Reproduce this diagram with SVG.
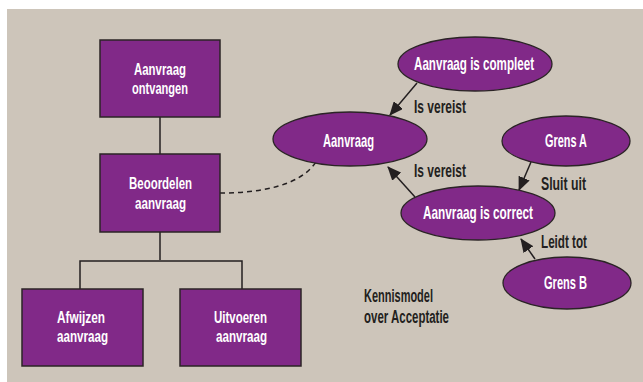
<svg xmlns="http://www.w3.org/2000/svg" width="643" height="382" viewBox="0 0 643 382">
<defs>
<style>
.box{fill:#812988;stroke:#2b2426;stroke-width:1.5}
.ell{fill:#812988;stroke:#2b2426;stroke-width:1.3}
.wt{fill:#ffffff;font-family:"Liberation Sans",Arial,sans-serif;font-weight:bold;font-size:17px}
.et{fill:#ffffff;font-family:"Liberation Sans",Arial,sans-serif;font-weight:bold;font-size:19px}
.lt{fill:#231f20;font-family:"Liberation Sans",Arial,sans-serif;font-weight:bold;font-size:18px}
.ln{fill:none;stroke:#231f20;stroke-width:1.5}
.dash{fill:none;stroke:#231f20;stroke-width:1.5;stroke-dasharray:5 4}
</style>
<marker id="arr" markerUnits="userSpaceOnUse" markerWidth="14" markerHeight="12" viewBox="0 0 14 12" refX="13" refY="6" orient="auto">
<path d="M0,0 L14,6 L0,12 Z" fill="#231f20"/>
</marker>
</defs>
<rect x="0" y="0" width="643" height="382" fill="#ffffff"/>
<rect x="7" y="9" width="636" height="373" fill="#cdc5ba"/>

<g id="connectors">
<line class="ln" x1="160" y1="117" x2="160" y2="154"/>
<polyline class="ln" points="160,232 160,260"/>
<polyline class="ln" points="80,289 80,261 242,261 242,289"/>
<path class="dash" d="M220,193 C260,193 300,186 316,162"/>
<line class="ln" x1="417" y1="83" x2="390" y2="115" marker-end="url(#arr)"/>
<line class="ln" x1="415" y1="197" x2="388" y2="167" marker-end="url(#arr)"/>
<line class="ln" x1="531" y1="162" x2="519" y2="190" marker-end="url(#arr)"/>
<line class="ln" x1="535" y1="259" x2="521" y2="239" marker-end="url(#arr)"/>
<text class="lt" x="414" y="113" textLength="52" lengthAdjust="spacingAndGlyphs">Is vereist</text>
<text class="lt" x="414" y="177" textLength="52" lengthAdjust="spacingAndGlyphs">Is vereist</text>
<text class="lt" x="541" y="190" textLength="45" lengthAdjust="spacingAndGlyphs">Sluit uit</text>
<text class="lt" x="541" y="248" textLength="46" lengthAdjust="spacingAndGlyphs">Leidt tot</text>
</g>

<g id="n-ontvangen">
<rect class="box" x="100" y="40" width="120" height="77"/>
<text class="wt" x="134" y="75" textLength="52" lengthAdjust="spacingAndGlyphs">Aanvraag</text>
<text class="wt" x="132" y="94" textLength="56" lengthAdjust="spacingAndGlyphs">ontvangen</text>
</g>
<g id="n-beoordelen">
<rect class="box" x="100" y="154" width="120" height="78"/>
<text class="wt" x="129" y="189" textLength="63" lengthAdjust="spacingAndGlyphs">Beoordelen</text>
<text class="wt" x="135" y="209" textLength="51" lengthAdjust="spacingAndGlyphs">aanvraag</text>
</g>
<g id="n-afwijzen">
<rect class="box" x="22" y="289" width="121" height="77"/>
<text class="wt" x="57" y="323" textLength="48" lengthAdjust="spacingAndGlyphs">Afwijzen</text>
<text class="wt" x="57" y="342" textLength="51" lengthAdjust="spacingAndGlyphs">aanvraag</text>
</g>
<g id="n-uitvoeren">
<rect class="box" x="180" y="289" width="121" height="77"/>
<text class="wt" x="214" y="323" textLength="53" lengthAdjust="spacingAndGlyphs">Uitvoeren</text>
<text class="wt" x="216" y="342" textLength="51" lengthAdjust="spacingAndGlyphs">aanvraag</text>
</g>

<g id="n-compleet">
<ellipse class="ell" cx="475" cy="64" rx="77" ry="27"/>
<text class="et" x="414" y="70" textLength="120" lengthAdjust="spacingAndGlyphs">Aanvraag is compleet</text>
</g>
<g id="n-aanvraag">
<ellipse class="ell" cx="350" cy="139" rx="77" ry="27"/>
<text class="et" x="323" y="147" textLength="51" lengthAdjust="spacingAndGlyphs">Aanvraag</text>
</g>
<g id="n-grensa">
<ellipse class="ell" cx="566" cy="141" rx="64" ry="25"/>
<text class="et" x="545" y="147" textLength="42" lengthAdjust="spacingAndGlyphs">Grens A</text>
</g>
<g id="n-correct">
<ellipse class="ell" cx="478" cy="213" rx="77" ry="27"/>
<text class="et" x="423" y="219" textLength="110" lengthAdjust="spacingAndGlyphs">Aanvraag is correct</text>
</g>
<g id="n-grensb">
<ellipse class="ell" cx="567" cy="283" rx="64" ry="26"/>
<text class="et" x="544" y="289" textLength="43" lengthAdjust="spacingAndGlyphs">Grens B</text>
</g>

<g id="caption">
<text class="lt" x="364" y="302" textLength="69" lengthAdjust="spacingAndGlyphs">Kennismodel</text>
<text class="lt" x="364" y="323" textLength="85" lengthAdjust="spacingAndGlyphs">over Acceptatie</text>
</g>
</svg>
